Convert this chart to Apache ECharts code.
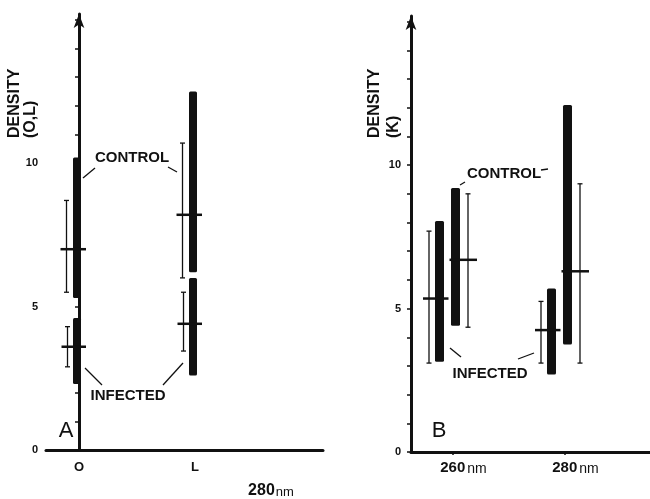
<!DOCTYPE html>
<html>
<head>
<meta charset="utf-8">
<script src="https://cdn.jsdelivr.net/npm/echarts@6/dist/echarts.min.js"></script>
<style>
  html, body { margin: 0; background: #fff; }
  #chart { width: 650px; height: 499px; }
</style>
</head>
<body>
<div id="chart"></div>
<script>
// panel A: density at 280nm, fractions O and L
const catsA = ['O', 'L'];
const ctrlLoA = [5.3, 6.2];
const ctrlHiA = [10.2, 12.5];
const ctrlMeanA = [7.0, 8.2];
const ctrlSdLoA = [5.5, 6.0];
const ctrlSdHiA = [8.7, 10.7];
const infLoA = [2.3, 2.6];
const infHiA = [4.6, 6.0];
const infMeanA = [3.6, 4.4];
const infSdLoA = [2.9, 3.45];
const infSdHiA = [4.3, 5.5];

// panel B: density of fraction K at 260 and 280nm
const catsB = [260, 280];
const ctrlLoB = [4.4, 3.75];
const ctrlHiB = [9.2, 12.1];
const ctrlMeanB = [6.7, 6.3];
const ctrlSdLoB = [4.35, 3.1];
const ctrlSdHiB = [9.0, 9.35];
const infLoB = [3.15, 2.7];
const infHiB = [8.05, 5.7];
const infMeanB = [5.35, 4.25];
const infSdLoB = [3.1, 3.1];
const infSdHiB = [7.7, 5.25];

const yTicks = [0, 5, 10];

const INK = '#111';
const FONT = '"Liberation Sans", Arial, sans-serif';

function rows(xs, lo, hi, mean, sdLo, sdHi) {
  return xs.map((x, i) => [x, lo[i], hi[i], mean[i], sdLo[i], sdHi[i]]);
}

// thick bar = range, thin capped bar = spread, cross line = mean
function rangeItem(thickDx, errDx, barW) {
  return function (params, api) {
    const x = api.value(0);
    const top = api.coord([x, api.value(2)]);
    const bot = api.coord([x, api.value(1)]);
    const m = api.coord([x, api.value(3)]);
    const eTop = api.coord([x, api.value(5)]);
    const eBot = api.coord([x, api.value(4)]);
    const cx = top[0] + thickDx;
    const ex = top[0] + errDx;
    const l = Math.min(cx, ex) - 6;
    const r = Math.max(cx, ex) + 9;
    const thin = { stroke: INK, lineWidth: 1.3 };
    return {
      type: 'group',
      children: [
        { type: 'rect', shape: { x: cx - barW / 2, y: top[1], width: barW, height: bot[1] - top[1], r: 1.5 }, style: { fill: INK } },
        { type: 'line', shape: { x1: ex, y1: eTop[1], x2: ex, y2: eBot[1] }, style: thin },
        { type: 'line', shape: { x1: ex - 2.5, y1: eTop[1], x2: ex + 2.5, y2: eTop[1] }, style: thin },
        { type: 'line', shape: { x1: ex - 2.5, y1: eBot[1], x2: ex + 2.5, y2: eBot[1] }, style: thin },
        { type: 'line', shape: { x1: l, y1: m[1], x2: r, y2: m[1] }, style: { stroke: INK, lineWidth: 2.5 } }
      ]
    };
  };
}

function yAxis(gridIndex, margin) {
  return {
    type: 'value', gridIndex: gridIndex, min: 0, max: 15.2,
    axisLine: { show: true, symbol: ['none', 'arrow'], symbolSize: [8, 14], lineStyle: { color: INK, width: 3 } },
    axisTick: { show: true, length: 4, customValues: [0, 1, 2, 3, 4, 5, 6, 7, 8, 9, 10, 11, 12, 13, 14, 15], lineStyle: { color: INK, width: 1.5 } },
    axisLabel: { customValues: yTicks, margin: margin, color: INK, fontFamily: FONT, fontWeight: 'bold', fontSize: 11 },
    splitLine: { show: false }
  };
}

function label(text, x, y, size, weight) {
  return {
    type: 'text', x: x, y: y,
    style: { text: text, fill: INK, font: weight + ' ' + size + 'px ' + FONT, align: 'center', verticalAlign: 'middle', textAlign: 'center', textVerticalAlign: 'middle' }
  };
}

function lead(x1, y1, x2, y2) {
  return { type: 'line', shape: { x1: x1, y1: y1, x2: x2, y2: y2 }, style: { stroke: INK, lineWidth: 1.3 } };
}

function yName(text, x, y, lh) {
  return {
    type: 'text', x: x, y: y, rotation: Math.PI / 2,
    style: { text: text, fill: INK, font: 'bold 16px ' + FONT, lineHeight: lh, align: 'left', verticalAlign: 'top', textAlign: 'left', textVerticalAlign: 'top' }
  };
}

const chart = echarts.init(document.getElementById('chart'));

chart.setOption({
  animation: false,
  backgroundColor: '#fff',
  grid: [
    { left: 46, top: 14, width: 277, bottom: 49 },
    { left: 411, top: 16, width: 239, bottom: 47 }
  ],
  xAxis: [
    {
      type: 'value', gridIndex: 0, min: -0.2845, max: 2.1034,
      axisLine: { lineStyle: { color: INK, width: 3 } },
      axisTick: { show: false },
      axisLabel: { customValues: [0, 1], formatter: v => catsA[Math.round(v)], margin: 11, color: INK, fontFamily: FONT, fontWeight: 'bold', fontSize: 13 },
      splitLine: { show: false }
    },
    {
      type: 'value', gridIndex: 1, min: 252.5, max: 295.18,
      axisLine: { lineStyle: { color: INK, width: 3 } },
      axisTick: { show: true, customValues: catsB, length: 3, lineStyle: { color: INK, width: 1.5 } },
      axisLabel: {
        customValues: catsB, margin: 8,
        formatter: v => '{s| }{n|' + v + '}{u|nm}',
        rich: {
          s: { width: 21 },
          n: { color: INK, fontFamily: FONT, fontWeight: 'bold', fontSize: 15 },
          u: { color: INK, fontFamily: FONT, fontSize: 14, padding: [2, 0, 0, 2] }
        }
      },
      splitLine: { show: false }
    }
  ],
  yAxis: [yAxis(0, 8), yAxis(1, 10)],
  series: [
    { type: 'custom', name: 'Control', xAxisIndex: 0, yAxisIndex: 0, renderItem: rangeItem(-2, -12.5, 8),
      encode: { x: 0, y: [1, 2, 3, 4, 5] }, data: rows([0, 1], ctrlLoA, ctrlHiA, ctrlMeanA, ctrlSdLoA, ctrlSdHiA) },
    { type: 'custom', name: 'Infected', xAxisIndex: 0, yAxisIndex: 0, renderItem: rangeItem(-2, -11.5, 8),
      encode: { x: 0, y: [1, 2, 3, 4, 5] }, data: rows([0, 1], infLoA, infHiA, infMeanA, infSdLoA, infSdHiA) },
    { type: 'custom', name: 'Control', xAxisIndex: 1, yAxisIndex: 1, renderItem: rangeItem(2.5, 15, 9),
      encode: { x: 0, y: [1, 2, 3, 4, 5] }, data: rows(catsB, ctrlLoB, ctrlHiB, ctrlMeanB, ctrlSdLoB, ctrlSdHiB) },
    { type: 'custom', name: 'Infected', xAxisIndex: 1, yAxisIndex: 1, renderItem: rangeItem(-13.5, -24, 9),
      encode: { x: 0, y: [1, 2, 3, 4, 5] }, data: rows(catsB, infLoB, infHiB, infMeanB, infSdLoB, infSdHiB) }
  ],
  graphic: [
    // panel A annotations
    yName('DENSITY\n(O,L)', 7, 138, 16),
    label('CONTROL', 132, 158, 15, 'bold'),
    lead(83, 178, 95, 168),
    lead(168, 167, 177, 172),
    label('INFECTED', 128, 396, 15, 'bold'),
    lead(85, 368, 102, 385),
    lead(163, 385, 183, 363),
    label('A', 66, 431, 22, 'normal'),
    {
      type: 'text', x: 271, y: 491,
      style: {
        text: '{a|280}{b|nm}', align: 'center', verticalAlign: 'middle', textAlign: 'center', textVerticalAlign: 'middle',
        rich: {
          a: { fill: INK, font: 'bold 16px ' + FONT },
          b: { fill: INK, font: 'normal 13px ' + FONT, padding: [2, 0, 0, 1] }
        }
      }
    },
    // panel B annotations
    yName('DENSITY\n(K)', 365, 138, 19),
    {
      type: 'text', x: 467, y: 174,
      style: { text: 'CONTROL', fill: INK, font: 'bold 15px ' + FONT, align: 'left', verticalAlign: 'middle', textAlign: 'left', textVerticalAlign: 'middle' }
    },
    lead(541, 170, 548, 169),
    lead(460, 185, 465, 182),
    label('INFECTED', 490, 374, 15, 'bold'),
    lead(450, 348, 461, 357),
    lead(518, 359, 534, 353),
    label('B', 439, 431, 22, 'normal')
  ]
});
</script>
</body>
</html>
